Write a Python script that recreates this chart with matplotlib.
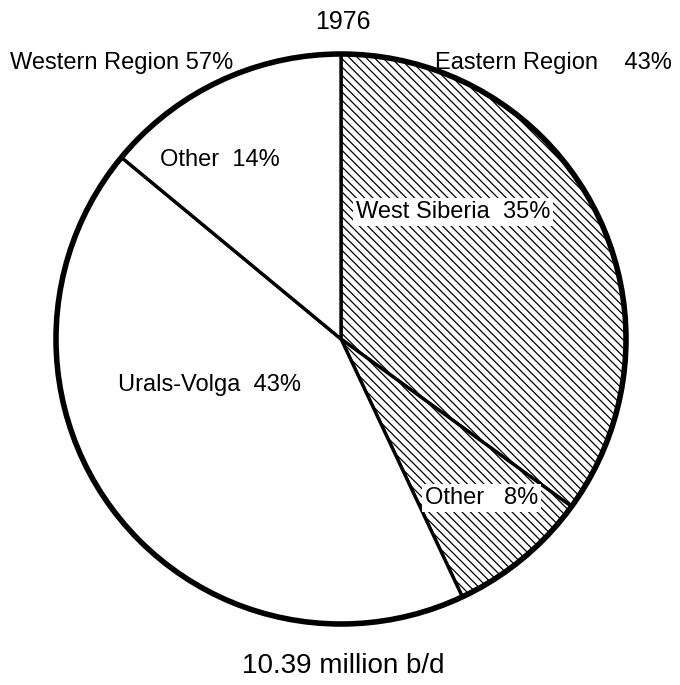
import matplotlib
matplotlib.use("Agg")
import matplotlib.pyplot as plt

plt.rcParams['font.family'] = ['Liberation Sans', 'DejaVu Sans']
plt.rcParams['hatch.linewidth'] = 0.9

# === data (1976, share of 10.39 million b/d) ===
slice_names = ["West Siberia", "Other", "Urals-Volga", "Other"]
slice_pct = [35, 8, 43, 14]
slice_hatch = ["\\\\\\\\", "\\\\\\\\", None, None]
region_names = ["Western Region", "Eastern Region"]
region_pct = [57, 43]
title = "1976"
total_label = "10.39 million b/d"

W, H = 680, 685
fig = plt.figure(figsize=(W / 100, H / 100), dpi=100)
ax = fig.add_axes([0, 0, 1, 1])

cx, cy, r = 341, 339, 285

# y axis is inverted, so counterclock=True draws clockwise on screen
wedges, _ = ax.pie(slice_pct, startangle=-90, counterclock=True,
                   center=(cx, cy), radius=r, frame=True,
                   colors=["white"] * 4,
                   wedgeprops=dict(edgecolor="black", linewidth=2.4))
for w, h in zip(wedges, slice_hatch):
    if h:
        w.set_hatch(h)
ax.set_xlim(0, W)
ax.set_ylim(H, 0)
ax.set_aspect("equal")
ax.axis("off")

# thicker outer rim
rim = plt.Circle((cx, cy), r, fill=False, edgecolor="black", linewidth=4.0)
ax.add_patch(rim)

fs = 17
ax.text(cx + 2, 22, title, ha="center", va="center", fontsize=18)
ax.text(10, 63, f"{region_names[0]} {region_pct[0]}%", ha="left", va="center", fontsize=fs)
ax.text(672, 63, f"{region_names[1]}    {region_pct[1]}%", ha="right", va="center", fontsize=fs)

box = dict(facecolor="white", edgecolor="none", pad=2)
ax.text(356, 212, f"{slice_names[0]}  {slice_pct[0]}%", ha="left", va="center",
        fontsize=fs, bbox=box)
ax.text(425, 498, f"{slice_names[1]}   {slice_pct[1]}%", ha="left", va="center",
        fontsize=fs, bbox=box)
ax.text(118, 385, f"{slice_names[2]}  {slice_pct[2]}%", ha="left", va="center", fontsize=fs)
ax.text(160, 160, f"{slice_names[3]}  {slice_pct[3]}%", ha="left", va="center", fontsize=fs)

ax.text(cx + 2, 666, total_label, ha="center", va="center", fontsize=20)

fig.savefig("out.png", dpi=100, facecolor="white")
